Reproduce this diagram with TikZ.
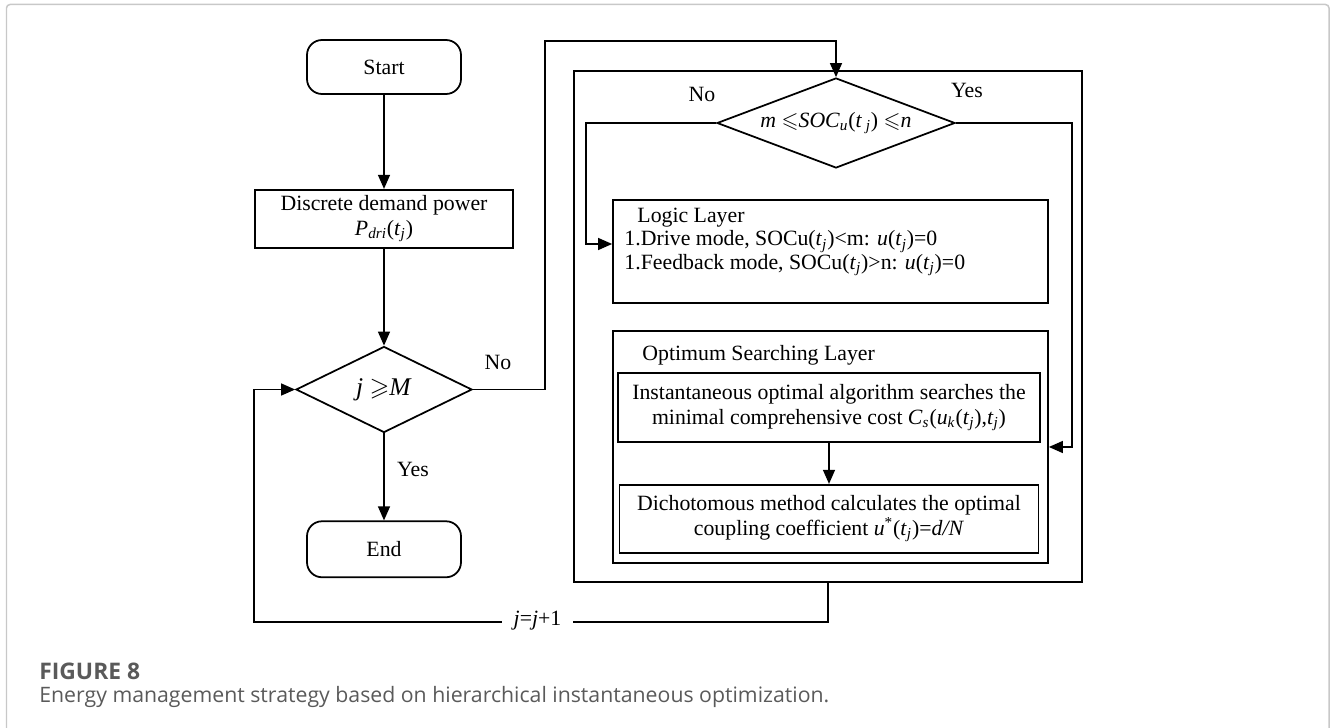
\documentclass[tikz,border=0pt]{standalone}
\usepackage{amsmath, amssymb}
\usepackage{fontspec}
\setmainfont{Liberation Serif}
\newfontfamily\capfont{Open Sans}
\usepackage{xcolor}
\usetikzlibrary{arrows.meta, positioning, shapes.geometric, calc}
\definecolor{framegray}{RGB}{200, 200, 200}
\definecolor{capgray}{RGB}{90, 90, 90}
\newcommand{\itx}[1]{\textit{#1}}
\newcommand{\isub}[1]{\textsubscript{\textit{#1}}}

\begin{document}
\begin{tikzpicture}[
    node distance=1cm,
    font=\fontsize{12.4}{14.2}\selectfont,
    term/.style={draw, rounded corners=0.3cm, minimum width=3.08cm, minimum height=1.08cm, line width=1pt},
    box/.style={draw, line width=1pt, minimum width=5.16cm, minimum height=1.16cm,
                align=center, inner sep=2pt},
    decision/.style={draw, diamond, line width=1pt, inner sep=0pt},
    layer/.style={draw, line width=1pt, minimum width=8.7cm},
    lbl/.style={inner sep=1pt},
    arr/.style={-{Triangle[length=0.28cm, width=0.24cm]}, line width=0.75pt}
]
    \useasboundingbox (0,0) rectangle (26.6,-14.56);
    \draw[framegray, line width=0.85pt, rounded corners=2pt] (0.13,-14.8) -- (0.13,-0.09) -- (26.58,-0.09) -- (26.58,-14.8);

    % main loop
    \node[term] (start) at (7.68,-1.34) {Start};
    \node[box, below=1.88cm of start] (disc) {Discrete demand power\\\itx{P}\isub{dri}(\itx{t}\isub{j})};
    \node[decision, shape aspect=2.05, minimum width=3.52cm, minimum height=1.72cm, below=1.94cm of disc,
          font=\fontsize{14.5}{16}\selectfont] (jdec) {\itx{j} $\geqslant$\itx{M}};
    \node[term, minimum height=1.12cm, below=1.74cm of jdec] (end) {End};

    % hierarchical part
    \node[draw, line width=1.1pt, minimum width=10.16cm, minimum height=10.22cm] (outer) at (16.56,-6.53) {};
    \node[decision, shape aspect=2.64, minimum width=4.76cm, minimum height=1.8cm] (cond) at (16.72,-2.46)
        {\itx{m} $\leqslant$\itx{SOC}\isub{u}(\itx{t}\,\isub{j}) $\leqslant$\itx{n}};

    \node[layer, minimum height=2.06cm] (logic) at (16.61,-5.03) {};
    \node[anchor=north west, align=left, inner sep=0pt, font=\fontsize{12.4}{13.4}\selectfont] (logictxt)
        at ($(logic.north west)+(0.24,-0.17)$)
        {\hspace{0.26cm}Logic Layer\\
         1.Drive mode, SOCu(\itx{t}\isub{j})<m: \itx{u}(\itx{t}\isub{j})=0\\
         1.Feedback mode, SOCu(\itx{t}\isub{j})>n: \itx{u}(\itx{t}\isub{j})=0};

    \node[layer, minimum height=4.64cm] (opt) at (16.61,-8.94) {};
    \node[anchor=north west, inner sep=0pt] (opttitle) at ($(opt.north west)+(0.6,-0.3)$) {Optimum Searching Layer};
    \node[box, minimum width=8.44cm, minimum height=1.38cm] (search) at (16.58,-8.15)
        {Instantaneous optimal algorithm searches the\\minimal comprehensive cost \itx{C}\isub{s}(\itx{u}\isub{k}(\itx{t}\isub{j}),\itx{t}\isub{j})};
    \node[box, minimum width=8.38cm, minimum height=1.36cm, below=0.82cm of search] (dicho)
        {Dichotomous method calculates the optimal\\coupling coefficient \itx{u}\textsuperscript{*}(\itx{t}\isub{j})=\itx{d/N}};

    % connectors
    \draw[arr] (start) -- (disc);
    \draw[arr] (disc) -- (jdec);
    \draw[arr] (jdec) -- (end);
    \draw[arr] (jdec.east) -- ++(1.44,0) |- ($(cond.north)+(0,0.72)$) -- (cond.north);
    \draw[arr] (cond.west) -- ++(-2.6,0) |- ($(logic.west)+(0,0.15)$);
    \draw[arr] (cond.east) -- ++(2.32,0) |- (opt.east);
    \draw[arr] (search) -- (dicho);
    \draw[arr] (outer.south) -- ++(0,-0.78) -| ($(jdec.west)+(-0.82,0)$) -- (jdec.west);
    \node[fill=white, inner xsep=0.24cm, inner ysep=1pt] (incr) at (10.75,-12.42) {\itx{j}=\itx{j}+1};

    \node[lbl] (nolbl) at (9.96,-7.24) {No};
    \node[lbl] (yeslbl) at (8.26,-9.38) {Yes};
    \node[lbl] (nolbltop) at (14.04,-1.88) {No};
    \node[lbl] (yeslbltop) at (19.34,-1.8) {Yes};

    % caption
    \node[anchor=west, inner sep=0pt, font=\capfont\bfseries\fontsize{13}{15}\selectfont, text=capgray] (figno)
        at (0.78,-13.42) {FIGURE 8};
    \node[anchor=west, inner sep=0pt, font=\capfont\fontsize{12.1}{14}\selectfont, text=capgray] (figcap)
        at (0.78,-13.94) {Energy management strategy based on hierarchical instantaneous optimization.};
\end{tikzpicture}
\end{document}
